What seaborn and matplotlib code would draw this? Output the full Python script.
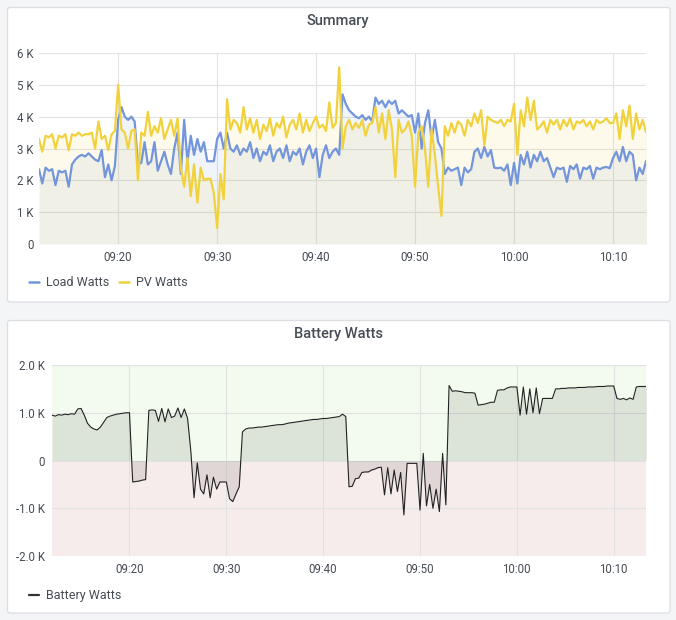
import matplotlib
matplotlib.use("Agg")
import matplotlib.dates as mdates
import matplotlib.pyplot as plt
import numpy as np
import pandas as pd
import seaborn as sns
from matplotlib.lines import Line2D
from matplotlib.patches import FancyBboxPatch

# values in kW, one row per minute (samples every 20 s) starting 09:12
LOAD_KW = [
    2.35, 1.9, 2.4, 2.3, 2.35, 1.85,
    2.3, 2.25, 2.3, 1.8, 2.5, 2.65,
    2.75, 2.8, 2.75, 2.85, 2.75, 2.65,
    2.6, 2.95, 2.1, 2.5, 2.0, 2.45,
    3.9, 4.3, 4.0, 3.9, 4.0, 3.85,
    2.5, 2.55, 3.2, 2.5, 2.6, 3.2,
    2.3, 2.6, 2.9, 2.5, 2.2, 3.0,
    3.5, 2.2, 3.9, 2.6, 3.4, 2.8,
    3.3, 2.9, 3.2, 2.6, 2.6, 2.6,
    3.3, 3.5, 3.0, 3.5, 3.0, 2.9,
    3.1, 2.8, 3.0, 2.9, 3.2, 2.7,
    3.0, 2.6, 2.9, 2.8, 3.1, 2.6,
    2.9, 3.0, 2.7, 3.1, 2.6, 2.9,
    2.8, 3.0, 2.5, 2.9, 3.1, 2.7,
    3.0, 2.1, 2.8, 3.1, 2.7, 2.9,
    3.0, 2.8, 4.7, 4.4, 4.2, 4.1,
    4.0, 3.95, 4.05, 3.9, 4.0, 3.85,
    4.6, 4.4, 4.5, 4.3, 4.5, 4.4,
    4.5, 4.1, 4.2, 4.1, 4.0, 4.05,
    3.5, 4.1, 3.0, 3.8, 4.2, 3.3,
    3.9, 3.2, 3.0, 2.2, 2.4, 2.3,
    2.35, 2.4, 1.85, 2.4, 2.25, 2.35,
    2.9, 3.0, 2.7, 3.05, 2.75, 2.95,
    2.4, 2.38, 2.4, 2.3, 2.5, 1.85,
    2.55, 1.9, 2.8, 2.5, 2.9, 2.4,
    2.8, 2.6, 2.9, 2.6, 2.7, 2.4,
    2.1, 2.4, 2.35, 2.4, 1.95, 2.45,
    2.35, 2.5, 2.05, 2.4, 2.35, 2.45,
    2.05, 2.4, 2.35, 2.4, 2.42, 2.38,
    2.7, 2.9, 2.6, 3.05, 2.6, 2.9,
    2.8, 2.0, 2.4, 2.2, 2.6, 2.7,
]

PV_KW = [
    3.3, 2.9, 3.4, 3.35, 3.45, 3.0,
    3.4, 3.35, 3.45, 2.95, 3.45, 3.4,
    3.5, 3.4, 3.45, 3.45, 3.5, 3.0,
    3.85, 3.3, 3.4, 2.95, 3.45, 3.55,
    5.0, 3.6, 3.5, 3.0, 3.55, 3.6,
    2.0, 3.5, 3.4, 4.15, 3.4, 3.7,
    3.5, 3.95, 3.3, 3.6, 3.9, 3.4,
    3.95, 2.4, 1.8, 2.7, 1.5, 2.5,
    1.3, 2.4, 2.0, 2.05, 2.05, 1.6,
    0.5, 2.2, 1.4, 4.55, 3.6, 3.9,
    3.8, 3.5, 4.3, 3.6, 3.95, 3.5,
    3.9, 3.3, 3.75, 3.55, 3.95, 3.4,
    3.8, 3.65, 4.0, 3.35, 3.75, 3.9,
    3.6, 4.1, 3.5, 3.9, 3.55, 3.8,
    4.0, 3.65, 3.75, 3.55, 4.45, 3.65,
    3.8, 5.55, 3.0, 3.7, 3.9, 3.6,
    3.8, 3.65, 3.9, 3.4, 3.75, 3.8,
    4.3, 3.5, 4.1, 3.3, 4.2, 3.6,
    2.1, 3.9, 3.5, 3.6, 3.85, 3.4,
    1.8, 3.5, 3.7, 3.0, 1.8, 3.6,
    2.8, 1.8, 0.88, 3.7, 3.4, 3.8,
    3.5, 3.85, 3.75, 3.4, 3.9, 3.7,
    4.1, 3.8, 4.2, 3.1, 4.0, 3.9,
    3.85, 3.8, 3.9, 3.7, 3.9, 3.85,
    4.4, 2.8, 4.2, 3.7, 4.6, 3.9,
    4.5, 3.6, 3.7, 3.85, 3.5, 3.9,
    3.75, 3.9, 3.6, 3.9, 3.7, 3.95,
    3.6, 3.85, 3.8, 3.9, 3.7, 3.85,
    3.6, 3.9, 3.8, 3.85, 3.95, 3.8,
    3.8, 4.1, 3.3, 4.2, 3.7, 4.35,
    3.3, 4.1, 3.6, 3.9, 3.5, 3.8,
]

BATTERY_KW = [
    0.95, 0.93, 0.96, 0.95, 0.97, 0.96,
    0.98, 0.97, 1.08, 1.09, 0.95, 0.78,
    0.70, 0.66, 0.64, 0.70, 0.80, 0.90,
    0.93, 0.95, 0.97, 0.98, 0.99, 1.00,
    1.00, -0.45, -0.44, -0.43, -0.41, -0.40,
    1.05, 1.06, 1.05, 0.82, 1.09, 0.81,
    1.08, 0.90, 0.93, 1.10, 0.90, 1.08,
    0.88, 0.20, -0.78, -0.05, -0.60, -0.70,
    -0.30, -0.78, -0.35, -0.60, -0.45, -0.45,
    -0.45, -0.80, -0.86, -0.70, -0.55, 0.60,
    0.66, 0.68, 0.68, 0.69, 0.70, 0.70,
    0.71, 0.72, 0.73, 0.74, 0.75, 0.75,
    0.76, 0.78, 0.79, 0.80, 0.81, 0.82,
    0.83, 0.84, 0.85, 0.86, 0.86, 0.87,
    0.88, 0.88, 0.89, 0.90, 0.91, 0.92,
    0.97, 0.92, -0.55, -0.54, -0.38, -0.37,
    -0.25, -0.24, -0.24, -0.20, -0.18, -0.15,
    -0.14, -0.72, -0.15, -0.70, -0.20, -0.65,
    -0.25, -1.14, -0.06, -0.06, -0.06, -0.06,
    -1.04, 0.15, -0.95, -0.50, -1.00, -0.60,
    -1.07, 0.15, -0.93, 1.57, 1.45, 1.46,
    1.45, 1.44, 1.42, 1.42, 1.42, 1.41,
    1.16, 1.17, 1.18, 1.20, 1.22, 1.22,
    1.47, 1.48, 1.48, 1.52, 1.54, 1.54,
    1.54, 0.95, 1.54, 0.97, 1.50, 1.00,
    1.52, 0.98, 1.30, 1.30, 1.30, 1.30,
    1.50, 1.50, 1.51, 1.51, 1.52, 1.52,
    1.52, 1.53, 1.53, 1.53, 1.54, 1.54,
    1.54, 1.55, 1.55, 1.55, 1.56, 1.56,
    1.56, 1.30, 1.28, 1.30, 1.27, 1.31,
    1.28, 1.54, 1.55, 1.55, 1.55, 1.55,
]

START = "2021-06-01 09:12:00"
END = "2021-06-01 10:13:20"
TOP_TICKS = [0, 1, 2, 3, 4, 5, 6]
BOTTOM_TICKS = [-2, -1, 0, 1, 2]

BLUE = "#7395db"
YELLOW = "#f2d23c"
TEXT = "#464c54"
GRID = "#e2e2e2"

times = pd.date_range(START, periods=len(LOAD_KW), freq="20s")
df = pd.DataFrame({
    "time": times,
    "load": LOAD_KW,
    "pv": PV_KW,
    "battery": BATTERY_KW,
})

sns.set_theme(style="white")
plt.rcParams["font.family"] = ["Roboto", "DejaVu Sans"]

W, H = 676, 620
fig = plt.figure(figsize=(W / 100, H / 100), dpi=100, facecolor="#f4f5f7")


def px_box(x0, y0, x1, y1):
    return [x0 / W, 1 - y1 / H, (x1 - x0) / W, (y1 - y0) / H]


for (x0, y0, x1, y1) in [(7.5, 7.5, 670, 302), (7.5, 320.5, 670, 613)]:
    fig.patches.append(FancyBboxPatch(
        (x0 / W, 1 - y1 / H), (x1 - x0) / W, (y1 - y0) / H,
        boxstyle="round,pad=0,rounding_size=0.004",
        transform=fig.transFigure, facecolor="white",
        edgecolor="#dcdee3", linewidth=0.9, zorder=-5,
    ))


def style_axis(ax, ticks, fmt):
    ax.set_zorder(2)
    ax.set_facecolor("none")
    ax.set_xlim(pd.Timestamp(START), pd.Timestamp(END))
    ax.set_yticks(ticks)
    ax.set_yticklabels([fmt(t) for t in ticks])
    ax.xaxis.set_major_locator(mdates.MinuteLocator(byminute=range(0, 60, 10)))
    ax.xaxis.set_major_formatter(mdates.DateFormatter("%H:%M"))
    ax.grid(True, color=GRID, linewidth=0.8)
    ax.set_axisbelow(True)
    for s in ax.spines.values():
        s.set_visible(False)
    ax.tick_params(axis="both", length=0, labelsize=8.3, labelcolor=TEXT)
    ax.tick_params(axis="y", pad=4)
    ax.tick_params(axis="x", pad=5)
    ax.set_xlabel("")
    ax.set_ylabel("")


# ---- Summary panel ----
ax1 = fig.add_axes(px_box(39, 53, 646, 244))
ax1.set_ylim(0, 6)
ax1.fill_between(df["time"], 0, df["load"], color=BLUE, alpha=0.1, lw=0)
ax1.fill_between(df["time"], 0, df["pv"], color=YELLOW, alpha=0.1, lw=0)
sns.lineplot(data=df, x="time", y="load", ax=ax1, color=BLUE, lw=1.6)
sns.lineplot(data=df, x="time", y="pv", ax=ax1, color=YELLOW, lw=1.6)
style_axis(ax1, TOP_TICKS, lambda t: "0" if t == 0 else f"{t} K")

# ---- Battery panel ----
ax2 = fig.add_axes(px_box(52, 365, 646, 556))
ax2.set_ylim(-2, 2)
ax2.axhspan(0, 2, color="#f2fbee", zorder=0, lw=0)
ax2.axhspan(-2, 0, color="#f7ecec", zorder=0, lw=0)
ax2.fill_between(df["time"], 0, df["battery"], color="black", alpha=0.09, lw=0)
sns.lineplot(data=df, x="time", y="battery", ax=ax2, color="#222222", lw=0.8)
style_axis(ax2, BOTTOM_TICKS, lambda t: "0" if t == 0 else f"{t:.1f} K")
ax2.tick_params(axis="y", pad=5)

# ---- titles ----
fig.text(338 / W, 1 - 21 / H, "Summary", ha="center", va="center",
         fontsize=10.5, fontweight="medium", color=TEXT)
fig.text(338 / W, 1 - 334 / H, "Battery Watts", ha="center", va="center",
         fontsize=10.5, fontweight="medium", color=TEXT)

# ---- legends ----
legend_items = [
    (29, 282, BLUE, 1.8, "Load Watts"),
    (119, 282, YELLOW, 1.8, "PV Watts"),
    (29, 595, "#333333", 1.6, "Battery Watts"),
]
for x, y, c, lw, label in legend_items:
    fig.add_artist(Line2D([x / W, (x + 10) / W], [1 - y / H, 1 - y / H],
                          transform=fig.transFigure, color=c, lw=lw))
    fig.text((x + 17) / W, 1 - y / H, label, ha="left", va="center",
             fontsize=9, color=TEXT)

fig.savefig("out.png", dpi=100, facecolor=fig.get_facecolor())
plt.close(fig)
